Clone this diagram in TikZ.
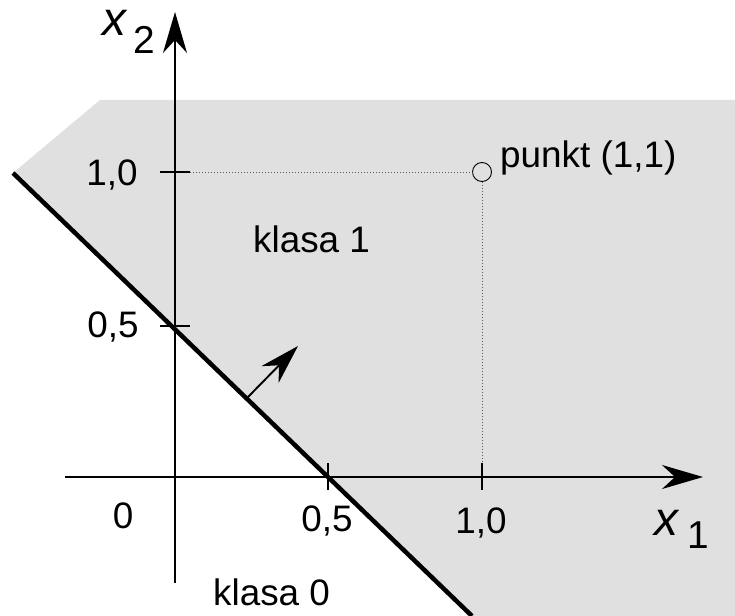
\documentclass[tikz,border=0pt]{standalone}
\usepackage{fontspec}
\setmainfont{Liberation Sans}
\usetikzlibrary{arrows.meta}
\definecolor{regiongray}{RGB}{224,224,224}
\definecolor{dotgray}{RGB}{90,90,90}
\begin{document}
\begin{tikzpicture}[x=1bp,y=-1bp,
  axis/.style={line width=1.9bp,-{Stealth[length=41bp,width=24bp,inset=13bp]}},
  tick/.style={line width=1.9bp},
  boundary/.style={line width=4.5bp},
  guide/.style={dotgray,line width=0.9bp,dash pattern=on 1bp off 2bp},
  lbl/.style={font=\fontsize{37}{40}\selectfont,inner sep=0pt,anchor=base},
  axlbl/.style={font=\fontsize{48}{48}\selectfont\itshape,inner sep=0pt,anchor=base west,text height=0.55em,text depth=0pt},
  axsub/.style={font=\fontsize{39}{39}\selectfont,inner sep=0pt,anchor=base west,text height=0.72em,text depth=0pt},
  normalarrow/.style={line width=1.9bp,-{Stealth[length=40bp,width=24bp,inset=13bp]}}
]
\useasboundingbox (0,0) rectangle (735,616);
\fill[white] (0,0) rectangle (735,616);
% class-1 region
\fill[regiongray] (100,100) -- (735,100) -- (735,616) -- (472,616) -- (13,173) -- cycle;
% coordinates
\coordinate (xaS) at (65,477);
\coordinate (xaE) at (703,477);
\coordinate (yaS) at (175,583);
\coordinate (yaE) at (175,12);
\coordinate (bS) at (13,173);
\coordinate (bE) at (472,616);
\coordinate (nS) at (248,397);
\coordinate (nE) at (298,346);
\coordinate (t1a) at (328,463); \coordinate (t1b) at (328,490);
\coordinate (t2a) at (482,463); \coordinate (t2b) at (482,490);
\coordinate (t3a) at (160,172); \coordinate (t3b) at (190,172);
\coordinate (t4a) at (160,326); \coordinate (t4b) at (190,326);
\node[circle,draw,line width=0.9bp,minimum size=19bp,inner sep=0pt] (p) at (482,172) {};
% dotted guides
\draw[guide] (t3b) -- (p.west);
\draw[guide] (p.south) -- (t2a);
% axes
\draw[axis] (xaS) -- (xaE);
\draw[axis] (yaS) -- (yaE);
% ticks
\draw[tick] (t1a) -- (t1b);
\draw[tick] (t2a) -- (t2b);
\draw[tick] (t3a) -- (t3b);
\draw[tick] (t4a) -- (t4b);
% decision boundary
\draw[boundary] (bS) -- (bE);
% normal arrow
\draw[normalarrow] (nS) -- (nE);
% labels
\node[lbl] (l10y) at (112,186) {1,0};
\node[lbl] (l05y) at (113,337) {0,5};
\node[lbl] (l0) at (123,528) {0};
\node[lbl] (l05x) at (327,531) {0,5};
\node[lbl] (l10x) at (481,533) {1,0};
\node[lbl,anchor=base west] (pt) at (500,168) {punkt (1,1)};
\node[lbl,anchor=base west] (k1) at (253,252) {klasa 1};
\node[lbl,anchor=base west] (k0) at (213,605) {klasa 0};
\node[axlbl] (x1) at (654,535) {x};
\node[axsub] (x1s) at (687,548) {1};
\node[axlbl] (x2) at (102,36) {x};
\node[axsub] (x2s) at (133,54) {2};
\end{tikzpicture}
\end{document}
